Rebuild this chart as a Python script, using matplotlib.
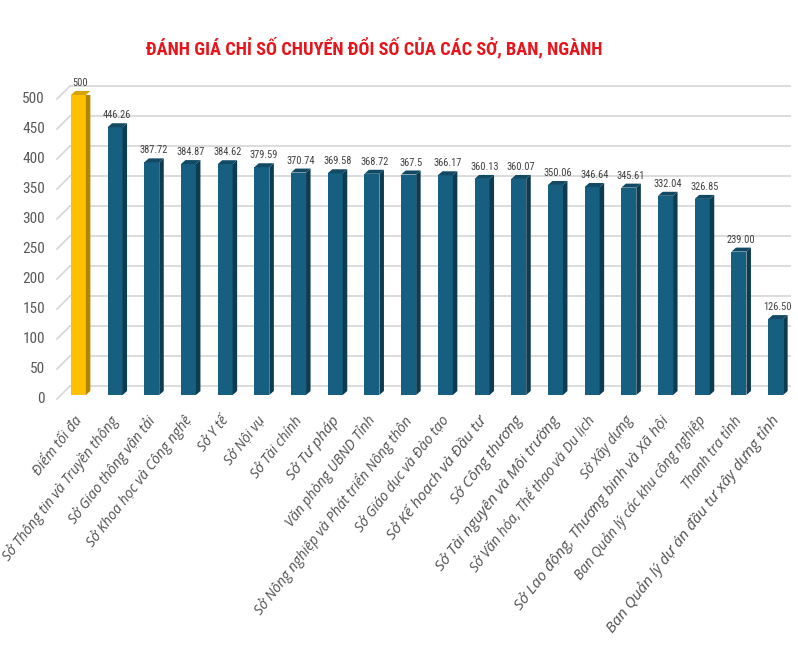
import matplotlib
matplotlib.use('Agg')
import matplotlib.pyplot as plt
from matplotlib.patches import Polygon
import numpy as np

# data
units = ['Điểm tối đa', 'Sở Thông tin và Truyền thông', 'Sở Giao thông vận tải',
         'Sở Khoa học và Công nghệ', 'Sở Y tế', 'Sở Nội vụ', 'Sở Tài chính',
         'Sở Tư pháp', 'Văn phòng UBND Tỉnh', 'Sở Nông nghiệp và Phát triển Nông thôn',
         'Sở Giáo dục và Đào tạo', 'Sở Kế hoạch và Đầu tư', 'Sở Công thương',
         'Sở Tài nguyên và Môi trường', 'Sở Văn hóa, Thể thao và Du lịch', 'Sở Xây dựng',
         'Sở Lao động, Thương binh và Xã hội', 'Ban Quản lý các khu công nghiệp',
         'Thanh tra tỉnh', 'Ban Quản lý dự án đầu tư xây dựng tỉnh']
scores = [500, 446.26, 387.72, 384.87, 384.62, 379.59, 370.74, 369.58, 368.72, 367.5,
          366.17, 360.13, 360.07, 350.06, 346.64, 345.61, 332.04, 326.85, 239.00, 126.50]
score_text = ['500', '446.26', '387.72', '384.87', '384.62', '379.59', '370.74', '369.58',
              '368.72', '367.5', '366.17', '360.13', '360.07', '350.06', '346.64', '345.61',
              '332.04', '326.85', '239.00', '126.50']
label_sizes = [10, 10, 10, 10, 10, 10, 10, 11, 10, 10,
               10, 11, 11, 11, 10, 10, 11, 10, 10, 11]
yticks = list(range(0, 501, 50))

narrow = ['Roboto Condensed', 'Roboto', 'DejaVu Sans']

W, H = 798, 666
fig = plt.figure(figsize=(W/100, H/100), dpi=100)
ax = fig.add_axes([60/W, (H-395)/H, 734/W, 300/H])
ax.set_xlim(-0.5, 19.5)
ax.set_ylim(0, 500)
ax.axis('off')

px_x = 20/734
px_y = 500/300

# back wall gridlines + perspective ticks
for v in yticks:
    gy = v + 9*px_y
    ax.plot([-0.5 + 10*px_x, 19.5 - 4*px_x], [gy, gy], color='#d9d9d9', lw=1.3,
            zorder=1, clip_on=False)
    ax.plot([-0.5 - 3*px_x, -0.5 + 10*px_x], [v - 4*px_y, gy], color='#d9d9d9', lw=1.3,
            zorder=1, clip_on=False)
    ax.text(-0.5 - 15*px_x, v - 4*px_y, str(v), ha='right', va='center',
            fontsize=11, color='#595959', family=narrow)

x = np.arange(len(scores))
bw = 15*px_x
dx = 4.5*px_x
dy = 4*px_y
for i, v in enumerate(scores):
    if i == 0:
        front, side, top = '#ffc000', '#b38600', '#d9a300'
    else:
        front, side, top = '#175f80', '#0d3b50', '#124a64'
    l, r = x[i] - bw/2, x[i] + bw/2
    ax.add_patch(Polygon([[l, 0], [r, 0], [r, v], [l, v]], closed=True,
                         facecolor=front, edgecolor='none', zorder=3))
    ax.add_patch(Polygon([[r, 0], [r + dx, dy], [r + dx, v + dy], [r, v]], closed=True,
                         facecolor=side, edgecolor='none', zorder=3))
    ax.add_patch(Polygon([[l, v], [r, v], [r + dx, v + dy], [l + dx, v + dy]], closed=True,
                         facecolor=top, edgecolor='none', zorder=3, clip_on=False))
    ax.text(x[i] + dx/2, v + 12*px_y, score_text[i], ha='center', va='center',
            fontsize=7.5, color='#404040', family=narrow, clip_on=False)

# category labels
for i, name in enumerate(units):
    ax.text(x[i] + 1*px_x, -23*px_y, name, rotation=52, rotation_mode='anchor',
            ha='right', va='center', fontsize=label_sizes[i], style='italic',
            color='#505050', family=['Open Sans', 'DejaVu Sans'])

fig.text(374/W, 1 - 48/H, 'ĐÁNH GIÁ CHỈ SỐ CHUYỂN ĐỔI SỐ CỦA CÁC SỞ, BAN, NGÀNH',
         ha='center', va='center', fontsize=13.2, fontweight='bold', color='#e8141b',
         family=narrow)

fig.savefig('out.png', dpi=100, facecolor='white')
